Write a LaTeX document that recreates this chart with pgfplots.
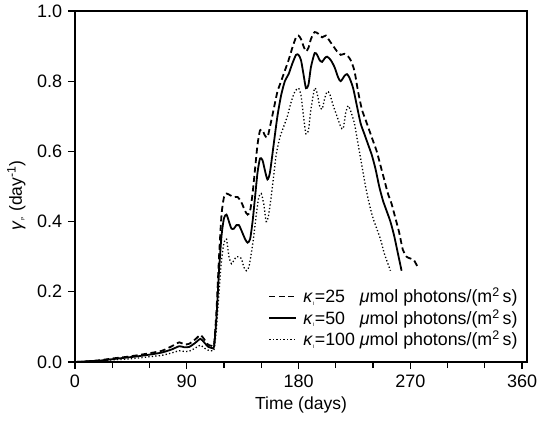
\documentclass[border=0pt]{standalone}
\usepackage{pgfplots}
\pgfplotsset{compat=1.18}
\usepackage{fontspec}
\setmainfont{Liberation Sans}
\begin{document}
\fontsize{17bp}{20bp}\selectfont
\begin{tikzpicture}
\begin{axis}[
  scale only axis, width=452bp, height=351bp,
  xmin=0, xmax=364, ymin=0, ymax=1,
  xtick={0,90,180,270,360},
  minor xtick={30,60,120,150,210,240,300,330},
  ytick={0,0.2,0.4,0.6,0.8,1.0},
  yticklabel style={/pgf/number format/.cd, fixed, fixed zerofill, precision=1},
  /pgf/number format/assume math mode=true,
  tick align=outside, xtick pos=bottom, ytick pos=left,
  major tick length=7bp, minor tick length=6bp,
  axis line style={line width=1.6bp},
  every tick/.style={line width=1.3bp, black},
  tick label style={font=\fontsize{18bp}{21bp}\selectfont},
  label style={font=\fontsize{17.5bp}{21bp}\selectfont},
  xlabel={Time (days)},
  xlabel style={yshift=2bp},
  ylabel={\textit{γ}\textsubscript{\tiny P} (day\textsuperscript{-1})},
  ylabel style={at={(ticklabel cs:0.475)}},
  legend cell align=left,
  legend image code/.code={\draw[#1] (0bp,0bp) -- (27bp,0bp);},
  legend style={draw=none, fill=none, at={(rel axis cs:0.995,0.03)}, anchor=south east,
    font=\fontsize{17.8bp}{22bp}\selectfont, row sep=0bp, inner sep=1bp,
    nodes={inner xsep=6bp}},
]
\addplot[black, line width=1.8bp, dash pattern=on 6bp off 3.5bp, smooth, tension=0.4] coordinates {
(0,0) (10,0.002) (20,0.005) (30,0.010) (40,0.014) (50,0.019) (60,0.025) (70,0.032) (78,0.045) (84,0.056) (88,0.050) (92,0.052) (97,0.065) (101,0.077) (104,0.065) (107,0.05) (110,0.046) (112,0.05) (114,0.15) (116,0.30) (118,0.42) (120,0.47) (122,0.48) (125,0.475) (128,0.47) (131,0.47) (134,0.455) (137,0.43) (139,0.42) (141,0.43) (143,0.48) (145,0.55) (147,0.62) (149,0.66) (151,0.66) (153,0.645) (155,0.64) (157,0.67) (160,0.72) (163,0.77) (166,0.80) (169,0.83) (172,0.86) (175,0.895) (178,0.925) (180,0.93) (182,0.92) (184,0.90) (186,0.885) (188,0.895) (190,0.92) (193,0.94) (196,0.935) (199,0.925) (202,0.93) (205,0.915) (208,0.90) (211,0.885) (214,0.875) (217,0.878) (220,0.87) (222,0.86) (225,0.83) (228,0.77) (231,0.72) (234,0.69) (237,0.66) (240,0.63) (243,0.60) (246,0.56) (249,0.52) (252,0.48) (255,0.45) (258,0.41) (261,0.37) (264,0.32) (267,0.30) (270,0.295) (273,0.29) (276,0.27)
};
\addlegendentry{\textit{κ}\textsubscript{\tiny I}=25\phantom{0}\ \textit{μ}mol photons/(m\textsuperscript{2}\,s)}
\addplot[black, line width=1.8bp, smooth, tension=0.4] coordinates {
(0,0) (10,0.002) (20,0.004) (30,0.008) (40,0.012) (50,0.016) (60,0.021) (70,0.027) (78,0.036) (84,0.045) (88,0.042) (92,0.043) (97,0.055) (101,0.066) (104,0.056) (107,0.044) (110,0.040) (112,0.045) (114,0.13) (116,0.26) (118,0.36) (120,0.41) (122,0.42) (124,0.40) (126,0.38) (128,0.38) (130,0.39) (132,0.39) (134,0.375) (137,0.35) (139,0.34) (141,0.35) (143,0.40) (145,0.47) (147,0.54) (149,0.58) (151,0.575) (153,0.545) (155,0.52) (157,0.54) (160,0.62) (163,0.70) (166,0.76) (169,0.80) (172,0.82) (175,0.85) (178,0.875) (180,0.875) (182,0.86) (184,0.82) (186,0.78) (188,0.79) (190,0.84) (193,0.88) (195,0.875) (197,0.86) (199,0.855) (201,0.865) (203,0.87) (206,0.86) (209,0.84) (212,0.81) (214,0.80) (217,0.815) (219,0.82) (221,0.81) (224,0.78) (227,0.73) (230,0.68) (233,0.65) (236,0.62) (239,0.59) (242,0.55) (245,0.50) (248,0.46) (251,0.43) (254,0.40) (257,0.36) (260,0.31) (263,0.26)
};
\addlegendentry{\textit{κ}\textsubscript{\tiny I}=50\phantom{0}\ \textit{μ}mol photons/(m\textsuperscript{2}\,s)}
\addplot[black, line width=1.3bp, dash pattern=on 1.3bp off 2.2bp, smooth, tension=0.4] coordinates {
(0,0) (10,0.001) (20,0.003) (30,0.006) (40,0.008) (50,0.011) (60,0.015) (70,0.019) (78,0.026) (84,0.032) (88,0.030) (92,0.031) (97,0.040) (101,0.048) (104,0.040) (107,0.034) (110,0.032) (112,0.036) (114,0.10) (116,0.20) (118,0.29) (120,0.34) (122,0.35) (124,0.30) (126,0.28) (128,0.29) (130,0.30) (132,0.30) (134,0.295) (136,0.27) (138,0.26) (140,0.27) (142,0.31) (144,0.36) (146,0.42) (148,0.47) (150,0.48) (152,0.45) (154,0.40) (156,0.42) (159,0.50) (162,0.59) (165,0.64) (168,0.67) (171,0.70) (174,0.74) (177,0.77) (180,0.78) (182,0.76) (184,0.70) (186,0.65) (188,0.66) (190,0.72) (193,0.78) (195,0.765) (197,0.73) (199,0.72) (201,0.75) (203,0.77) (205,0.765) (208,0.73) (211,0.70) (214,0.67) (216,0.665) (218,0.71) (220,0.73) (222,0.715) (225,0.68) (228,0.62) (231,0.56) (234,0.50) (237,0.45) (240,0.41) (243,0.38) (246,0.35) (249,0.31) (252,0.28) (254,0.26)
};
\addlegendentry{\textit{κ}\textsubscript{\tiny I}=100\ \textit{μ}mol photons/(m\textsuperscript{2}\,s)}
\end{axis}
\pgfresetboundingbox
\useasboundingbox (-75bp,-63bp) rectangle (473bp,362bp);
\end{tikzpicture}
\end{document}
